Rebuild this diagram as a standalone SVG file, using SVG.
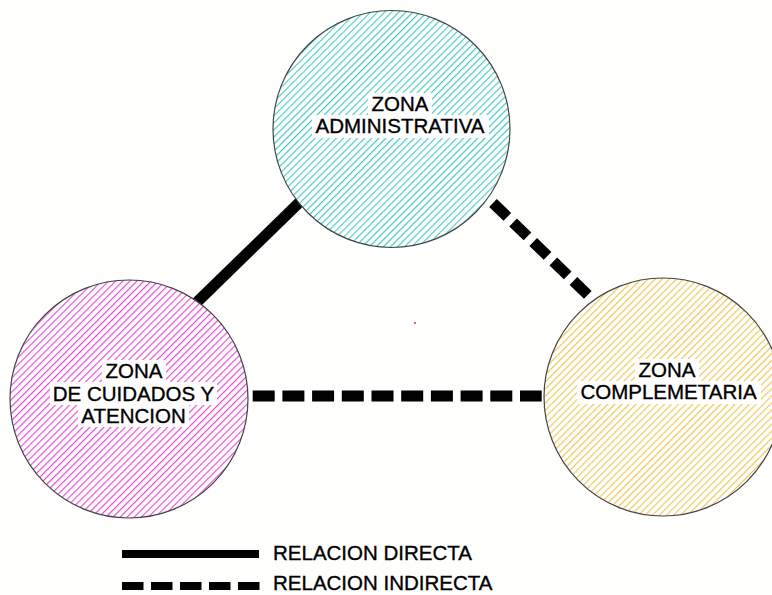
<svg xmlns="http://www.w3.org/2000/svg" width="772" height="595" viewBox="0 0 772 595">
<style>
.zone{stroke:#444;stroke-width:1.2}
.lbl{font-family:"Liberation Sans",Arial,sans-serif;font-size:20.5px;fill:#000;stroke:#000;stroke-width:0.35;text-anchor:middle}
.leg{font-family:"Liberation Sans",Arial,sans-serif;font-size:20.5px;fill:#000;stroke:#000;stroke-width:0.35}
.bg{fill:#fff}
.solid{stroke:#000;stroke-width:11;fill:none}
.dash{stroke:#000;stroke-width:11;fill:none}
</style>
<defs>
<pattern id="hTeal" patternUnits="userSpaceOnUse" width="5" height="5" patternTransform="rotate(45)">
<rect width="5" height="5" fill="#fff"/>
<line x1="0.6" y1="0" x2="0.6" y2="5" stroke="#3cc9c0" stroke-width="1.1"/>
</pattern>
<pattern id="hMag" patternUnits="userSpaceOnUse" width="5" height="5" patternTransform="rotate(45)">
<rect width="5" height="5" fill="#fff"/>
<line x1="0.6" y1="0" x2="0.6" y2="5" stroke="#e640d0" stroke-width="1.1"/>
</pattern>
<pattern id="hYel" patternUnits="userSpaceOnUse" width="5" height="5" patternTransform="rotate(45)">
<rect width="5" height="5" fill="#fff"/>
<line x1="0.6" y1="0" x2="0.6" y2="5" stroke="#efc64a" stroke-width="1.1"/>
</pattern>
</defs>
<rect width="772" height="595" fill="#fffffd"/>
<g id="connectors">
<line class="solid" x1="310" y1="192" x2="193" y2="306"/>
<line class="dash" x1="493" y1="203" x2="590" y2="297" stroke-dasharray="20 8"/>
<line class="dash" x1="252.7" y1="396" x2="541.7" y2="396" stroke-dasharray="22 7.7"/>
</g>
<g id="zona-administrativa">
<circle class="zone" cx="391.5" cy="129" r="118.5" fill="url(#hTeal)"/>
<rect class="bg" x="368" y="93" width="64" height="22"/>
<rect class="bg" x="312" y="115" width="177" height="23"/>
<text class="lbl" x="400" y="111">ZONA</text>
<text class="lbl" x="400" y="133">ADMINISTRATIVA</text>
</g>
<g id="zona-cuidados">
<circle class="zone" cx="129" cy="399" r="119" fill="url(#hMag)"/>
<rect class="bg" x="102" y="360" width="64" height="22"/>
<rect class="bg" x="50" y="382" width="167" height="23"/>
<rect class="bg" x="78" y="405" width="111" height="22"/>
<text class="lbl" x="134" y="378">ZONA</text>
<text class="lbl" x="133.5" y="400.5">DE CUIDADOS Y</text>
<text class="lbl" x="133.5" y="423">ATENCION</text>
</g>
<g id="zona-complementaria">
<circle class="zone" cx="663" cy="397" r="119" fill="url(#hYel)"/>
<rect class="bg" x="635" y="359" width="64" height="22"/>
<rect class="bg" x="577" y="381" width="184" height="23"/>
<text class="lbl" x="667" y="377">ZONA</text>
<text class="lbl" x="668.5" y="399">COMPLEMETARIA</text>
</g>
<circle cx="415" cy="323" r="1" fill="#f22"/>
<g id="legend">
<line x1="122" y1="554" x2="259" y2="554" stroke="#000" stroke-width="8"/>
<line x1="122" y1="586" x2="259.5" y2="586" stroke="#000" stroke-width="8" stroke-dasharray="21.5 7.5"/>
<text class="leg" x="273" y="559.5">RELACION DIRECTA</text>
<text class="leg" x="273" y="590">RELACION INDIRECTA</text>
</g>
</svg>
